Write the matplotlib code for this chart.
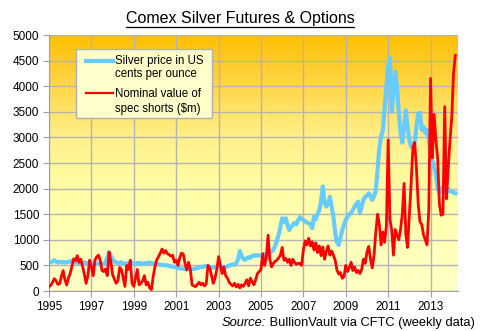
import matplotlib
matplotlib.use('Agg')
import matplotlib.pyplot as plt
import numpy as np
from matplotlib.colors import LinearSegmentedColormap
from matplotlib.patches import Rectangle
from matplotlib.lines import Line2D

plt.rcParams['font.family'] = ['Liberation Sans', 'DejaVu Sans']

# monthly readings, Jan 1995 onwards
# silver price, US cents per ounce
silver = [
    570, 560, 575, 600, 580, 555, 570, 560, 565, 555, 560, 570,   # 1995
    575, 590, 565, 555, 560, 545, 555, 550, 560, 540, 550, 545,   # 1996
    530, 540, 520, 530, 540, 530, 520, 530, 560, 640, 760, 680,   # 1997
    620, 580, 560, 545, 550, 560, 540, 530, 540, 545, 550, 540,   # 1998
    540, 535, 545, 550, 540, 530, 545, 540, 550, 560, 540, 530,   # 1999
    540, 530, 520, 510, 510, 500, 505, 500, 490, 480, 475, 470,   # 2000
    460, 450, 440, 440, 435, 430, 430, 440, 420, 430, 430, 440,   # 2001
    450, 460, 470, 470, 480, 490, 480, 470, 460, 460, 465, 470,   # 2002
    480, 470, 460, 470, 470, 480, 500, 510, 520, 510, 540, 620,   # 2003
    780, 690, 620, 610, 640, 660, 650, 680, 700, 690, 700, 690,   # 2004
    700, 690, 720, 710, 740, 760, 770, 800, 880, 980, 1100, 1250,  # 2005
    1420, 1350, 1420, 1300, 1190, 1250, 1290, 1330, 1300, 1380, 1440, 1400,  # 2006
    1390, 1360, 1340, 1320, 1300, 1225, 1450, 1400, 1500, 1580, 1750, 2040,  # 2007
    1720, 1650, 1700, 1840, 1650, 1450, 1150, 950, 900, 1030, 1190, 1300,    # 2008
    1390, 1450, 1500, 1520, 1580, 1650, 1700, 1745, 1520, 1650, 1780, 1840,  # 2009
    1860, 1910, 1850, 1780, 1850, 1970, 2360, 2800, 3015, 3145, 3600, 3990,  # 2010
    4400, 4550, 3500, 3900, 4280, 4000, 3500, 3100, 2900, 3200, 3530, 3200,  # 2011
    2950, 2820, 2850, 2900, 3200, 3470, 3480, 3150, 3210, 3085, 3150, 2950,  # 2012
    2690, 2560, 2400, 2300, 2000, 1920, 2000, 2040, 1950, 1930, 2000, 1950,  # 2013
    1940, 1920, 1910,                                                         # 2014
]

# nominal value of speculative shorts, $m
shorts = [
    85, 110, 170, 240, 200, 130, 140, 280, 400, 220, 117, 250,     # 1995
    345, 490, 630, 590, 690, 560, 620, 480, 330, 150, 300, 600,    # 1996
    480, 300, 600, 670, 700, 600, 400, 380, 430, 300, 760, 580,    # 1997
    320, 230, 150, 200, 460, 420, 260, 90, 500, 420, 600, 150,     # 1998
    90, 250, 420, 120, 150, 200, 300, 120, 170, 60, 25, 290,       # 1999
    475, 610, 670, 740, 820, 740, 790, 730, 710, 680, 700, 560,    # 2000
    600, 500, 650, 740, 720, 540, 410, 560, 420, 120, 100, 85,     # 2001
    130, 170, 120, 150, 100, 140, 500, 450, 300, 150, 250, 420,    # 2002
    670, 500, 340, 470, 300, 250, 170, 130, 100, 150, 80, 130,     # 2003
    60, 120, 90, 150, 220, 100, 250, 180, 120, 220, 340, 380,      # 2004
    420, 730, 500, 640, 1090, 620, 470, 540, 580, 600, 650, 700,   # 2005
    850, 600, 640, 560, 620, 500, 620, 560, 520, 540, 540, 500,    # 2006
    800, 980, 900, 1030, 880, 960, 800, 940, 750, 880, 690, 860,   # 2007
    620, 780, 880, 700, 780, 700, 600, 410, 330, 360, 250, 280,    # 2008
    500, 380, 450, 560, 400, 470, 360, 400, 340, 420, 620, 540,    # 2009
    760, 870, 620, 450, 700, 1150, 1500, 1300, 900, 1150, 950, 1280,        # 2010
    2950, 1400, 1190, 700, 1200, 1100, 1000, 1200, 1500, 2100, 1100, 850,   # 2011
    1500, 2100, 2800, 2900, 2400, 1700, 1350, 1300, 1100, 1000, 900, 1600,  # 2012
    4150, 2600, 3450, 2950, 2600, 1700, 1480, 1500, 3600, 1800, 2400, 2950, # 2013
    3400, 4250, 4600,                                                        # 2014
]

x_ticks = list(range(1995, 2014, 2))
y_ticks = list(range(0, 5001, 500))

t_silver = 1995 + np.arange(len(silver)) / 12
t_shorts = 1995 + np.arange(len(shorts)) / 12

W, H = 480, 331
fig = plt.figure(figsize=(W / 100, H / 100), dpi=100)
ax = fig.add_axes([49 / W, 1 - 291 / H, (457.7 - 49) / W, 256 / H])

x0, x1 = 1995, 2014.28
bg = LinearSegmentedColormap.from_list(
    'bg', [(0, '#FFFFC8'), (0.3, '#FFFFAE'), (0.45, '#FFFBA0'), (0.6, '#FFF08A'),
           (0.7, '#FFE468'), (0.85, '#FFD03A'), (1, '#FFC000')])
ax.imshow(np.linspace(0, 1, 256).reshape(-1, 1), cmap=bg, origin='lower',
          aspect='auto', extent=[x0, x1, 0, 5000], zorder=0)

ax.plot(t_silver, silver, color='#66CCFF', lw=3, solid_joinstyle='round', zorder=2)
ax.plot(t_shorts, shorts, color='#FF0000', lw=2, solid_joinstyle='round', zorder=3)

ax.set_xlim(x0, x1)
ax.set_ylim(0, 5000)
ax.set_xticks(x_ticks)
ax.set_yticks(y_ticks)
ax.grid(color='#B4B4B4', lw=1)
ax.set_axisbelow(True)
for s in ['top', 'right']:
    ax.spines[s].set_visible(False)
for s in ['left', 'bottom']:
    ax.spines[s].set_color('#A0A0A0')
ax.tick_params(direction='out', length=4, color='#A0A0A0', labelsize=8.5, pad=3)

# legend box, drawn by hand so the line sits on the first text line
ax.add_patch(Rectangle((0.065, 0.675), 0.333, 0.269, transform=ax.transAxes,
                       facecolor='#FFFFCC', edgecolor='#B0B0B0', lw=1, zorder=5))
ax.add_line(Line2D([0.091, 0.156], [0.900, 0.900], transform=ax.transAxes,
                   color='#66CCFF', lw=3, zorder=6))
ax.add_line(Line2D([0.091, 0.156], [0.772, 0.772], transform=ax.transAxes,
                   color='#FF0000', lw=1.6, zorder=6))
leg_txt = dict(transform=ax.transAxes, fontsize=8.3, va='center', ha='left', zorder=6)
ax.text(0.162, 0.898, 'Silver price in US', **leg_txt)
ax.text(0.162, 0.848, 'cents per ounce', **leg_txt)
ax.text(0.162, 0.768, 'Nominal value of', **leg_txt)
ax.text(0.162, 0.712, 'spec shorts (\\$m)', **leg_txt)

# title with underline
title = fig.text(0.5, 1 - 19 / H, 'Comex Silver Futures & Options',
                 ha='center', va='center', fontsize=11.5)
src = fig.text(475 / W, 1 - 323 / H, ' BullionVault via CFTC (weekly data)',
               ha='right', va='center', fontsize=9.3)
fig.canvas.draw()
r = fig.canvas.get_renderer()
tb = title.get_window_extent(r)
fig.add_artist(Line2D([tb.x0 / W, tb.x1 / W], [(H - 26.5) / H, (H - 26.5) / H],
                      transform=fig.transFigure, color='black', lw=0.9))
sb = src.get_window_extent(r)
fig.text(sb.x0 / W, 1 - 323 / H, 'Source:', ha='right', va='center',
         fontsize=9.3, style='italic')

fig.savefig('out.png', dpi=100)
